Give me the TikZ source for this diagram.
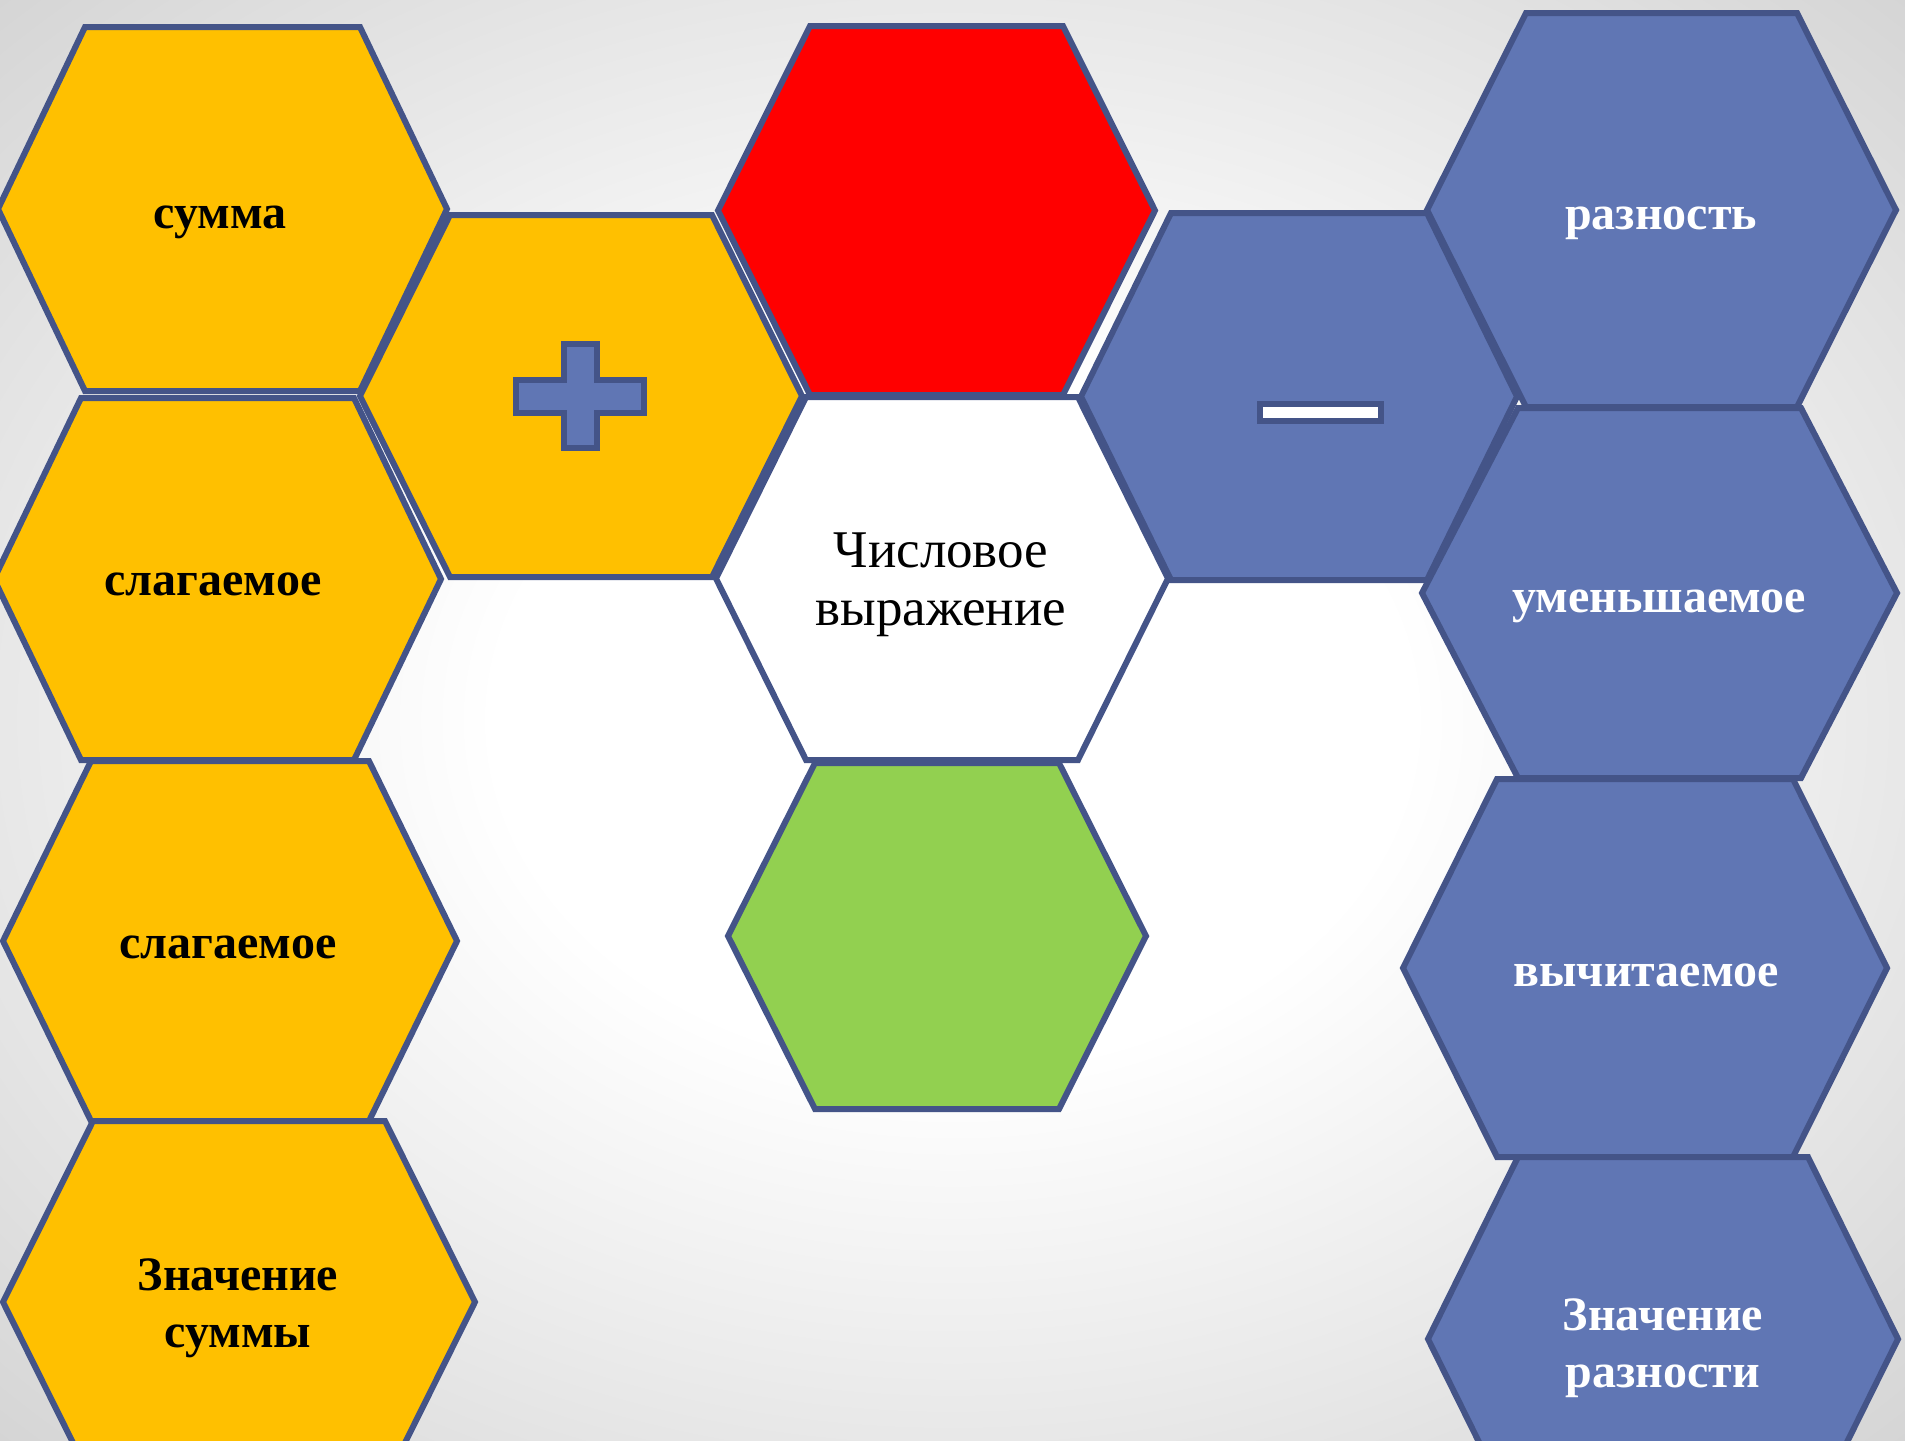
\documentclass[tikz,border=0pt]{standalone}
\usepackage{fontspec}
\setmainfont{Liberation Serif}
\definecolor{hexline}{RGB}{68,84,136}
\definecolor{hexyellow}{RGB}{255,192,0}
\definecolor{hexblue}{RGB}{96,118,180}
\definecolor{hexred}{RGB}{255,0,0}
\definecolor{hexgreen}{RGB}{146,208,80}
\definecolor{bggray}{RGB}{212,212,212}
\pgfdeclareradialshading{bgshade}{\pgfpoint{0bp}{0bp}}{color(0bp)=(white); color(12bp)=(white); color(36bp)=(bggray); color(50bp)=(bggray)}
\newcommand\honeycell[7]{%
  \path[hexbox,fill=#7] ({#2-#4},#3) -- ({#2-#4+#5},{#3-#6}) -- ({#2+#4-#5},{#3-#6}) -- ({#2+#4},#3) -- ({#2+#4-#5},{#3+#6}) -- ({#2-#4+#5},{#3+#6}) -- cycle;
  \coordinate (#1) at (#2,#3);}
\begin{document}
\begin{tikzpicture}[x=0.5pt,y=-0.5pt,
  hexbox/.style={draw=hexline,line width=3pt,line join=miter},
  boldlbl/.style={font=\fontsize{24}{28.5}\selectfont\bfseries,anchor=base,inner sep=0pt,align=center},
  plainlbl/.style={font=\fontsize{26.5}{29}\selectfont,anchor=base,inner sep=0pt,align=center}]
\useasboundingbox (0,0) rectangle (1905,1440);
\shade[shading=bgshade] (0,0) rectangle (1905,1440);
\clip (0,0) rectangle (1905,1440);
% yellow column and plus
\honeycell{summa}{222.5}{209}{224.5}{87}{182}{hexyellow}
\honeycell{slag1}{217.5}{579}{223.5}{87}{181}{hexyellow}
\honeycell{slag2}{230}{941}{227}{88}{180}{hexyellow}
\honeycell{znsum}{239}{1302}{236}{90}{181}{hexyellow}
\honeycell{plus}{581}{396}{221}{90}{181}{hexyellow}
% middle column
\honeycell{red}{936.5}{210.5}{218.5}{92}{184.5}{hexred}
\honeycell{center}{942}{578.5}{226}{90}{181.5}{white}
\honeycell{green}{937}{936}{209}{87}{173}{hexgreen}
% blue column and minus
\honeycell{minus}{1299}{396.5}{218}{90}{183.5}{hexblue}
\honeycell{raznost}{1661.5}{210}{234.5}{99}{197}{hexblue}
\honeycell{umen}{1659.5}{593}{237.5}{96}{185}{hexblue}
\honeycell{vych}{1645}{968}{242}{94}{189}{hexblue}
\honeycell{znraz}{1663}{1339}{235}{90}{182}{hexblue}
% signs
\path[hexbox,fill=hexblue] (516,380) -- (564,380) -- (564,344) -- (597,344) -- (597,380) -- (644,380) -- (644,413) -- (597,413) -- (597,448) -- (564,448) -- (564,413) -- (516,413) -- cycle;
\path[hexbox,fill=white] (1260,404) rectangle (1381,421);
% labels (base anchor of two-line labels = baseline of the last line)
\node[boldlbl] (t-summa) at (220,228) {сумма};
\node[boldlbl] (t-slag1) at (213,595) {слагаемое};
\node[boldlbl] (t-slag2) at (228,958) {слагаемое};
\node[boldlbl] (t-znsum) at (238,1347) {Значение\\суммы};
\node[boldlbl,text=white] (t-raz) at (1661,229) {разность};
\node[boldlbl,text=white] (t-umen) at (1659,612) {уменьшаемое};
\node[boldlbl,text=white] (t-vych) at (1646,986) {вычитаемое};
\node[boldlbl,text=white] (t-znraz) at (1663,1387) {Значение\\разности};
\node[plainlbl] (t-center) at (941,625) {Числовое\\выражение};
\end{tikzpicture}
\end{document}
